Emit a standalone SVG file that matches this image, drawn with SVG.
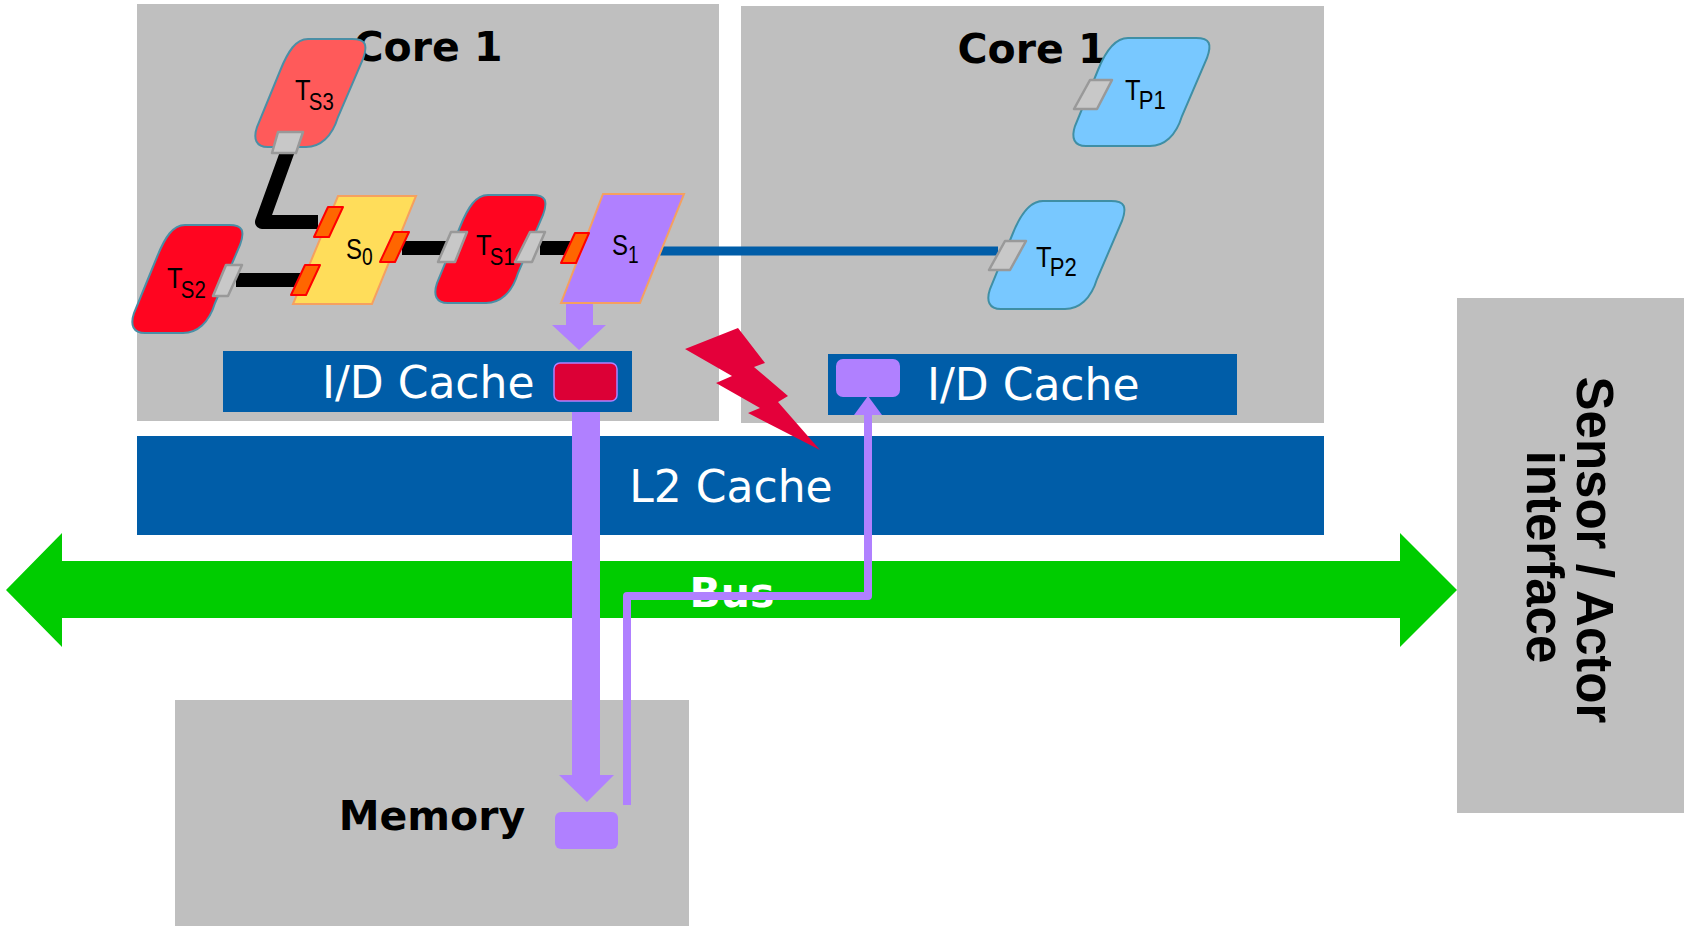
<svg xmlns="http://www.w3.org/2000/svg" xmlns:xlink="http://www.w3.org/1999/xlink" width="1690" height="930" viewBox="0 0 1690 930">
  <style>
    .box { fill: #BFBFBF; }
    .cache { fill: #005DA8; }
    .cache-text { font-family: "DejaVu Sans", "Liberation Sans", sans-serif; font-size: 44px; fill: #FFFFFF; }
    .title { font-family: "DejaVu Sans", "Liberation Sans", sans-serif; font-weight: bold; font-size: 41px; fill: #000000; }
    .task-s { fill: #FF0520; stroke: #4A8FA6; stroke-width: 2; }
    .task-s3 { fill: #FF5A5A; stroke: #4A8FA6; stroke-width: 2; }
    .task-p { fill: #78C8FF; stroke: #3F8FA5; stroke-width: 2; }
    .port { fill: #C8C8C8; stroke: #999999; stroke-width: 2.5; stroke-linejoin: round; }
    .sport { fill: #FF6600; stroke: #FF0000; stroke-width: 2; stroke-linejoin: round; }
    .label { font-family: "Liberation Sans", Arial, sans-serif; font-size: 30px; fill: #000000; }
    .wire { fill: none; stroke: #000000; stroke-width: 14; stroke-linejoin: round; }
    .purple { fill: #B080FF; }
  </style>
  <defs>
    <!-- rounded parallelogram used for the task nodes (narrow and wide variants) -->
    <path id="task-narrow" d="M 60,0 L 104,0 C 118,0 120,6 115,20 L 90,78 C 84,98 72,108 58,108 L 20,108 C 8,108 5,100 9,88 L 32,32 C 40,12 48,0 60,0 Z"/>
    <path id="task-wide" d="M 62,0 L 130,0 C 144,0 146,6 141,20 L 116,78 C 110,98 98,108 84,108 L 20,108 C 8,108 5,100 9,88 L 32,32 C 40,12 50,0 62,0 Z"/>
  </defs>

  <rect width="1690" height="930" fill="#FFFFFF"/>

  <!-- processor cores -->
  <g id="core-left">
    <rect class="box" x="137" y="4" width="582" height="417"/>
    <text class="title" x="428" y="61" text-anchor="middle">Core 1</text>
  </g>
  <g id="core-right">
    <rect class="box" x="741" y="6" width="583" height="417"/>
    <text class="title" x="1032" y="63" text-anchor="middle">Core 1</text>
  </g>

  <!-- first level caches -->
  <g id="cache-left">
    <rect class="cache" x="223" y="351" width="409" height="61"/>
    <text class="cache-text" x="322" y="398">I/D Cache</text>
    <rect x="554" y="363" width="63" height="38" rx="6" fill="#DC0036" stroke="#B080FF" stroke-width="1.5"/>
  </g>
  <g id="cache-right">
    <rect class="cache" x="828" y="354" width="409" height="61"/>
    <rect class="purple" x="836" y="359" width="64" height="38" rx="7"/>
    <text class="cache-text" x="927" y="400">I/D Cache</text>
  </g>

  <!-- shared cache -->
  <g id="l2-cache">
    <rect class="cache" x="137" y="436" width="1187" height="99"/>
    <text class="cache-text" x="731" y="502" text-anchor="middle" font-size="42">L2 Cache</text>
  </g>

  <!-- system bus -->
  <g id="bus">
    <polygon fill="#00CC00" points="6,590 62,533 62,561 1400,561 1400,533 1457,590 1400,647 1400,618 62,618 62,647"/>
    <text x="732" y="607" text-anchor="middle" font-family="DejaVu Sans, Liberation Sans, sans-serif" font-weight="bold" font-size="41" fill="#FFFFFF">Bus</text>
  </g>

  <!-- main memory -->
  <g id="memory">
    <rect class="box" x="175" y="700" width="514" height="226"/>
    <text class="title" x="432" y="830" text-anchor="middle" font-size="42">Memory</text>
    <rect class="purple" x="555" y="812" width="63" height="37" rx="6"/>
  </g>

  <!-- I/O interface -->
  <g id="sensor-actor">
    <rect class="box" x="1457" y="298" width="227" height="515"/>
    <text transform="translate(1577,557) rotate(90)" text-anchor="middle" font-family="Liberation Sans, Arial, sans-serif" font-weight="bold" font-size="51" fill="#000000">
      <tspan x="0" y="0">Sensor / Actor</tspan>
      <tspan x="0" y="50">interface</tspan>
    </text>
  </g>

  <!-- cache conflict flash -->
  <g id="conflict">
    <polygon fill="#E4003A" points="685,349 738,328 765,363 754,367 788,396 778,402 820,450 748,413 760,408 716,383 732,376"/>
  </g>

  <!-- links between tasks, signals and memories -->
  <g id="connectors">
    <path class="wire" d="M 288,150 L 262,222 L 318,222"/>
    <path class="wire" d="M 236,280 L 300,280"/>
    <path class="wire" d="M 402,248 L 446,248"/>
    <path class="wire" d="M 540,248 L 570,248"/>
    <path d="M 650,251 L 998,251" stroke="#005DA8" stroke-width="9" fill="none"/>
    <polygon class="purple" points="566,300 593,300 593,325 606,325 579,350 552,325 566,325"/>
    <polygon class="purple" points="572,412 600,412 600,775 614,775 587,802 559,775 572,775"/>
    <path d="M 627,805 L 627,596 L 868,596 L 868,414" fill="none" stroke="#B080FF" stroke-width="8" stroke-linejoin="round"/>
    <polygon class="purple" points="854,415 882,415 868,396"/>
  </g>

  <!-- tasks and signals -->
  <g id="task-ts3">
    <use xlink:href="#task-narrow" class="task-s3" x="248" y="39"/>
    <polygon class="port" points="278,132 303,132 296,153 272,153"/>
    <text class="label" transform="translate(295,100) scale(0.85,1)">T<tspan dx="-2" dy="10" font-size="24">S3</tspan></text>
  </g>
  <g id="task-ts2">
    <use xlink:href="#task-narrow" class="task-s" x="125" y="225"/>
    <polygon class="port" points="226,265 242,265 228,296 213,296"/>
    <text class="label" transform="translate(167,288) scale(0.85,1)">T<tspan dx="-2" dy="10" font-size="24">S2</tspan></text>
  </g>
  <g id="signal-s0">
    <polygon points="338,196 416,196 372,304 293,304" fill="#FFDD5A" stroke="#F5A060" stroke-width="2"/>
    <polygon class="sport" points="328,207 343,207 329,237 314,237"/>
    <polygon class="sport" points="305,265 320,265 306,295 291,295"/>
    <polygon class="sport" points="394,232 409,232 395,262 380,262"/>
    <text class="label" transform="translate(346,259) scale(0.8,1)">S<tspan dy="6" font-size="24">0</tspan></text>
  </g>
  <g id="task-ts1">
    <use xlink:href="#task-narrow" class="task-s" x="428" y="195"/>
    <polygon class="port" points="451,232 467,232 455,262 438,262"/>
    <polygon class="port" points="530,232 545,232 532,262 515,262"/>
    <text class="label" transform="translate(476,255) scale(0.85,1)">T<tspan dx="-2" dy="10" font-size="24">S1</tspan></text>
  </g>
  <g id="signal-s1">
    <polygon points="603,194 684,194 640,303 561,303" fill="#B080FF" stroke="#F5A060" stroke-width="2"/>
    <polygon class="sport" points="575,233 589,233 576,263 561,263"/>
    <text class="label" transform="translate(612,255) scale(0.8,1)">S<tspan dy="8" font-size="24">1</tspan></text>
  </g>
  <g id="task-tp1">
    <use xlink:href="#task-wide" class="task-p" x="1066" y="38"/>
    <polygon class="port" points="1090,80 1112,80 1097,109 1074,109"/>
    <text class="label" transform="translate(1125,100) scale(0.85,1)">T<tspan dx="-2" dy="9" font-size="26">P1</tspan></text>
  </g>
  <g id="task-tp2">
    <use xlink:href="#task-wide" class="task-p" x="981" y="201"/>
    <polygon class="port" points="1005,241 1026,241 1010,270 989,270"/>
    <text class="label" transform="translate(1036,267) scale(0.85,1)">T<tspan dx="-2" dy="9" font-size="26">P2</tspan></text>
  </g>
</svg>
